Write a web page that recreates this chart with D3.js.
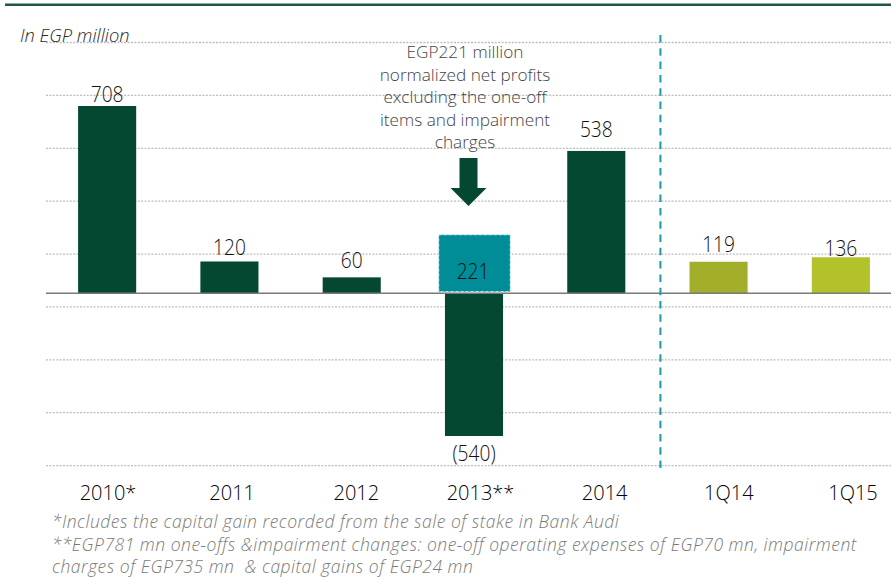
<!DOCTYPE html>
<html><head><meta charset="utf-8">
<script src="https://cdn.jsdelivr.net/npm/d3@7"></script>
<style>
html,body{margin:0;padding:0;background:#fff;}
svg{display:block;font-family:"Open Sans",sans-serif;font-weight:300;}
</style></head><body>
<svg id="chart" width="891" height="577"></svg>
<script>
// ---------- data ----------
const categories = ["2010*", "2011", "2012", "2013**", "2014", "1Q14", "1Q15"];
const netProfit = [708, 120, 60, -540, 538, 119, 136];
const valueLabels = ["708", "120", "60", "(540)", "538", "119", "136"];
const normalizedCategory = "2013**";
const normalizedValue = 221;
const normalizedLabel = "221";
const gridValues = [950, 750, 550, 350, 150, -50, -250, -450, -650];
const unitLabel = "In EGP million";
const annotationLines = ["EGP221 million", "normalized net profits", "excluding the one-off", "items and impairment", "charges"];
const footnotes = [
  "*Includes the capital gain recorded from the sale of stake in Bank Audi",
  "**EGP781 mn one-offs &impairment changes: one-off operating expenses of EGP70 mn, impairment",
  "charges of EGP735 mn  & capital gains of EGP24 mn"
];

// ---------- layout / style ----------
const W = 891, H = 577;
const barColors = ["#044832", "#044832", "#044832", "#044832", "#044832", "#a3ae2a", "#b3c22b"];
const labelGap = [4, 6, 9, 0, 14, 10, 1];
const svg = d3.select("#chart");

const x = d3.scaleBand().domain(categories).range([46, 902]).paddingInner(0.525).paddingOuter(0.2625);
const xLabel = d3.scalePoint().domain(categories).range([108, 853]);
const y = d3.scaleLinear().domain([-650, 950]).range([465.1, 42]);
const cx = c => x(c) + x.bandwidth() / 2;

// top rule
svg.append("line").attr("x1", 5).attr("x2", W).attr("y1", 4.7).attr("y2", 4.7)
  .attr("stroke", "#1d5a43").attr("stroke-width", 2.6);

// gridlines
const grid = svg.append("g").attr("transform", "translate(46,0)")
  .call(d3.axisLeft(y).tickValues(gridValues).tickSize(-(W - 46)).tickFormat(""));
grid.select(".domain").remove();
grid.selectAll(".tick line").attr("stroke", "#bdbdbd").attr("stroke-width", 1.3).attr("stroke-dasharray", "2,1.4");

// unit label
svg.append("text").attr("x", 20).attr("y", 41.5).attr("font-style", "italic")
  .attr("font-size", 18.3).attr("fill", "#2a2a2a").text(unitLabel);

// bars
const data = categories.map((c, i) => ({c, v: netProfit[i], label: valueLabels[i], color: barColors[i], gap: labelGap[i]}));
svg.append("g").selectAll("rect").data(data).join("rect")
  .attr("x", d => x(d.c)).attr("width", x.bandwidth())
  .attr("y", d => y(Math.max(0, d.v))).attr("height", d => Math.abs(y(d.v) - y(0)))
  .attr("fill", d => d.color);

// normalized 2013 bar
const nbW = x.bandwidth() * 1.23;
svg.append("rect")
  .attr("x", cx(normalizedCategory) - nbW / 2 + 0.5).attr("width", nbW)
  .attr("y", y(normalizedValue)).attr("height", y(0) - y(normalizedValue) - 1.5)
  .attr("fill", "#008d98").attr("stroke", "#d4eff1").attr("stroke-width", 1).attr("stroke-dasharray", "3,2");

// zero line
svg.append("line").attr("x1", 46).attr("x2", W).attr("y1", y(0)).attr("y2", y(0))
  .attr("stroke", "#7a7a7a").attr("stroke-width", 1.6);

// separator
const sepX = (cx("2014") + cx("1Q14")) / 2 + 3;
svg.append("line").attr("x1", sepX).attr("x2", sepX).attr("y1", 35).attr("y2", 472)
  .attr("stroke", "#1b9aa6").attr("stroke-width", 2).attr("stroke-dasharray", "7.5,5.8");

// value labels
const vl = svg.append("g").selectAll("g").data(data).join("g")
  .attr("transform", d => {
    const yy = d.v >= 0 ? y(d.v) - d.gap : y(d.v) + 24.7;
    return `translate(${cx(d.c)},${yy}) scale(0.87,1)`;
  });
vl.append("text").attr("text-anchor", "middle").attr("font-size", 22).attr("fill", "#111").text(d => d.label);

svg.append("g").attr("transform", `translate(${cx(normalizedCategory) - 1},279) scale(0.87,1)`)
  .append("text").attr("text-anchor", "middle").attr("font-size", 22).attr("fill", "#111").text(normalizedLabel);

// annotation
const ax = cx(normalizedCategory);
svg.append("g").selectAll("text").data(annotationLines).join("text")
  .attr("x", ax - 9).attr("y", (d, i) => 58 + i * 22.5).attr("text-anchor", "middle")
  .attr("font-size", 17.2).attr("fill", "#444").text(d => d);
const arX = ax - 5.5;
svg.append("polygon")
  .attr("points", [[arX - 9, 158], [arX + 9, 158], [arX + 9, 188], [arX + 18, 188], [arX, 206], [arX - 18, 188], [arX - 9, 188]].map(p => p.join(",")).join(" "))
  .attr("fill", "#044832");

// category labels
svg.append("g").selectAll("text").data(categories).join("text")
  .attr("x", d => xLabel(d)).attr("y", 499.5).attr("text-anchor", "middle")
  .attr("font-size", 20).attr("fill", "#000").text(d => d);

// footnotes
svg.append("g").selectAll("text").data(footnotes).join("text")
  .attr("x", 52).attr("y", (d, i) => 528 + i * 22.5)
  .attr("font-style", "italic").attr("font-size", 17.5).attr("letter-spacing", 0.5).attr("fill", "#7a7a7a")
  .style("white-space", "pre").text(d => d);
</script>
</body></html>
